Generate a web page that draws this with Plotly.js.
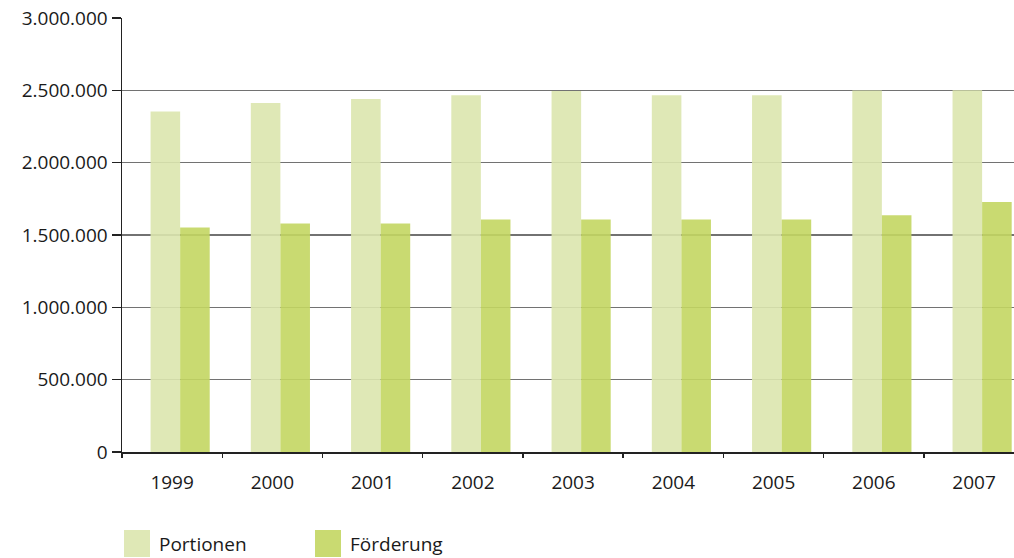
<!DOCTYPE html>
<html>
<head>
<meta charset="utf-8">
<script src="https://cdn.plot.ly/plotly-3.0.1.min.js"></script>
<style>
  body { margin: 0; background: #fff; }
  #plot { width: 1014px; height: 558px; }
</style>
</head>
<body>
<div id="plot"></div>
<script>
// data
let years = ["1999", "2000", "2001", "2002", "2003", "2004", "2005", "2006", "2007"];
let portionen = [2353000, 2413000, 2440000, 2466000, 2495000, 2466000, 2466000, 2498000, 2500000];
let foerderung = [1552000, 1580000, 1580000, 1608000, 1608000, 1608000, 1608000, 1637000, 1728000];
let seriesNames = ["Portionen", "Förderung"];
let seriesColors = ["#dce5ae", "#c3d662"];

// plot area in pixels
let W = 1014, H = 558;
let plotLeft = 122, plotTop = 18, plotBottom = 452;

let portionenTrace = {
    x: years,
    y: portionen,
    name: seriesNames[0],
    type: "bar",
    offset: -0.215,
    width: 0.295,
    marker: { color: seriesColors[0], opacity: 0.9 },
    hoverinfo: "x+y+name"
};

let foerderungTrace = {
    x: years,
    y: foerderung,
    name: seriesNames[1],
    type: "bar",
    offset: 0.08,
    width: 0.295,
    marker: { color: seriesColors[1], opacity: 0.9 },
    hoverinfo: "x+y+name"
};

let data = [portionenTrace, foerderungTrace];

// pixel -> paper helpers for the hand-made legend
let px = v => (v - plotLeft) / (W - plotLeft);
let py = v => (plotBottom - v) / (plotBottom - plotTop);

let legendX = [124, 315];
let shapes = seriesNames.map((n, i) => ({
    type: "rect",
    xref: "paper", yref: "paper",
    x0: px(legendX[i]), x1: px(legendX[i] + 26),
    y0: py(557), y1: py(530),
    fillcolor: seriesColors[i],
    opacity: 0.9,
    line: { width: 0 }
}));

let annotations = seriesNames.map((n, i) => ({
    text: n,
    xref: "paper", yref: "paper",
    x: px(legendX[i] + 33), y: py(544),
    xanchor: "left", yanchor: "middle",
    showarrow: false,
    font: { size: 19, color: "#1a1a1a" }
}));

let layout = {
    width: W,
    height: H,
    margin: { l: plotLeft, r: 0, t: plotTop, b: H - plotBottom, pad: 0 },
    paper_bgcolor: "#ffffff",
    plot_bgcolor: "#ffffff",
    separators: ",.",
    font: { family: "Open Sans, sans-serif", size: 19, color: "#1a1a1a" },
    showlegend: false,
    barmode: "group",
    xaxis: {
        type: "category",
        range: [-0.5, 8.398],
        showline: true,
        linecolor: "#222",
        linewidth: 1.5,
        ticks: "outside",
        tickson: "boundaries",
        ticklen: 4,
        tickwidth: 1.5,
        tickcolor: "#222",
        ticklabelstandoff: 13,
        tickfont: { size: 19 },
        showgrid: false,
        zeroline: false
    },
    yaxis: {
        range: [0, 3000000],
        tickvals: [0, 500000, 1000000, 1500000, 2000000, 2500000, 3000000],
        tickformat: ",d",
        showline: true,
        linecolor: "#222",
        linewidth: 1.5,
        ticks: "outside",
        ticklen: 9,
        tickwidth: 1.5,
        tickcolor: "#222",
        ticklabelstandoff: 0,
        tickfont: { size: 19 },
        showgrid: true,
        gridcolor: "#727272",
        gridwidth: 1.6,
        zeroline: false
    },
    shapes: shapes,
    annotations: annotations
};

Plotly.newPlot("plot", data, layout, { displayModeBar: false, staticPlot: true });
</script>
</body>
</html>
